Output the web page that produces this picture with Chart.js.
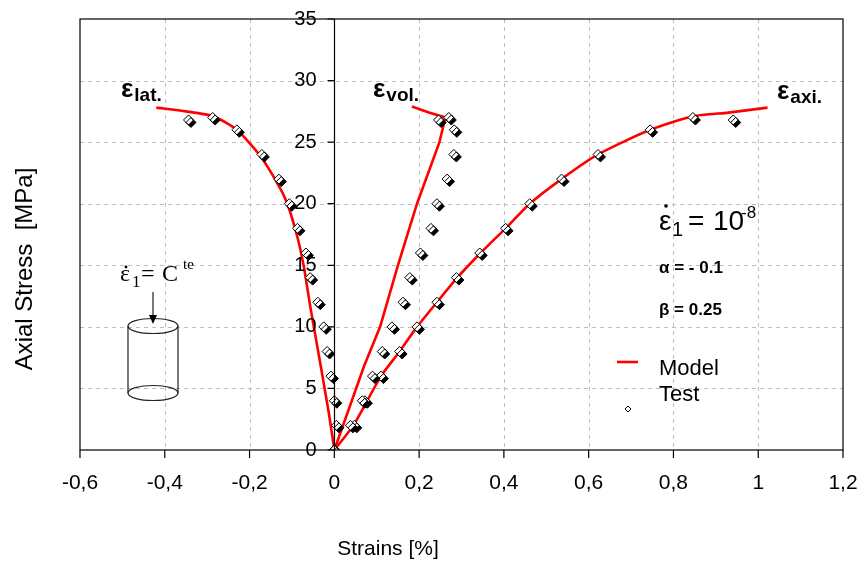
<!DOCTYPE html>
<html>
<head>
<meta charset="utf-8">
<script src="https://cdn.jsdelivr.net/npm/chart.js"></script>
<style>
  html, body { margin: 0; padding: 0; background: #fff; }
  #wrap { width: 859px; height: 561px; }
</style>
</head>
<body>
<div id="wrap"><canvas id="myChart" width="859" height="561"></canvas></div>
<script>
// model curves (red lines)
const latModelX = [0, -0.013, -0.033, -0.057, -0.072, -0.088, -0.112, -0.135, -0.175, -0.23, -0.285, -0.35, -0.42]
const latModelY = [0, 3, 7, 11.7, 14.9, 17.4, 20.1, 21.7, 23.9, 26, 27.1, 27.5, 27.8]
const volModelX = [0, 0.07, 0.108, 0.15, 0.195, 0.248, 0.262, 0.223, 0.183]
const volModelY = [0, 6.8, 10, 15, 20, 25, 27, 27.4, 27.9]
const axiModelX = [0, 0.045, 0.11, 0.154, 0.195, 0.242, 0.29, 0.345, 0.404, 0.461, 0.536, 0.622, 0.745, 0.846, 0.93, 1.022]
const axiModelY = [0, 2, 6, 8, 10, 12, 14, 16, 18, 20, 22, 24, 26, 27.1, 27.4, 27.8]

// test points (diamonds)
const testY    = [0, 2, 4, 6, 8, 10, 12, 14, 16, 18, 20, 22, 24, 26, 27, 26.8]
const latTestX = [0, 0.005, 0, -0.008, -0.017, -0.025, -0.039, -0.057, -0.067, -0.087, -0.106, -0.131, -0.171, -0.23, -0.287, -0.344]
const volTestX = [0, 0.038, 0.066, 0.09, 0.113, 0.136, 0.162, 0.178, 0.203, 0.228, 0.242, 0.266, 0.282, 0.283, 0.27, 0.246]
const axiTestX = [0, 0.047, 0.072, 0.11, 0.154, 0.195, 0.242, 0.288, 0.343, 0.404, 0.461, 0.536, 0.622, 0.745, 0.846, 0.941]

const xTicks = [-0.6, -0.4, -0.2, 0, 0.2, 0.4, 0.6, 0.8, 1, 1.2]
const yTicks = [0, 5, 10, 15, 20, 25, 30, 35]

const pts = (xs, ys) => xs.map((x, i) => ({ x: x, y: ys[i] }))
const fmt = v => String(Math.round(v * 10) / 10).replace('.', ',')
const SANS = '"Liberation Sans", Arial, sans-serif'
const SERIF = '"Liberation Serif", "Times New Roman", serif'

const modelSet = (xs, ys, tension) => ({
  label: 'Model',
  data: pts(xs, ys),
  showLine: true,
  borderColor: '#ff0000',
  backgroundColor: '#ff0000',
  borderWidth: 2.6,
  pointRadius: 0,
  tension: tension,
  order: 2
})
const testSet = (xs) => ({
  label: 'Test',
  data: pts(xs, testY),
  showLine: false,
  pointStyle: 'rectRot',
  pointRadius: 5,
  pointBackgroundColor: '#ffffff',
  pointBorderColor: '#000000',
  pointBorderWidth: 1,
  isTest: true,
  order: 1
})

// dashed grid drawn under the data
const gridPlugin = {
  id: 'dashGrid',
  beforeDatasetsDraw(chart) {
    const ctx = chart.ctx, a = chart.chartArea
    const xs = chart.scales.x, ys = chart.scales.y
    ctx.save()
    ctx.strokeStyle = '#bdbdbd'
    ctx.lineWidth = 1
    ctx.setLineDash([4, 4])
    ctx.beginPath()
    xTicks.slice(1, -1).forEach(v => {
      const px = Math.round(xs.getPixelForValue(v)) + 0.5
      ctx.moveTo(px, a.top); ctx.lineTo(px, a.bottom)
    })
    yTicks.slice(1, -1).forEach(v => {
      const py = Math.round(ys.getPixelForValue(v)) + 0.5
      ctx.moveTo(a.left, py); ctx.lineTo(a.right, py)
    })
    ctx.stroke()
    ctx.restore()
  }
}

// black drop shadow under the test diamonds
const shadowPlugin = {
  id: 'shadow',
  beforeDatasetDraw(chart, args) {
    const ds = chart.data.datasets[args.index]
    chart.ctx.save()
    if (ds.isTest) {
      chart.ctx.shadowColor = '#000'
      chart.ctx.shadowOffsetX = 2.5
      chart.ctx.shadowOffsetY = 2.5
      chart.ctx.shadowBlur = 0
    }
  },
  afterDatasetDraw(chart) {
    chart.ctx.restore()
  }
}

const dotted = (ctx, x, y, r) => {
  ctx.beginPath(); ctx.arc(x, y, r, 0, Math.PI * 2); ctx.fill()
}

// frame, axis at x=0, tick labels, titles, annotations
const decoPlugin = {
  id: 'deco',
  afterDraw(chart) {
    const ctx = chart.ctx
    const a = chart.chartArea
    const xs = chart.scales.x, ys = chart.scales.y
    const x0 = Math.round(xs.getPixelForValue(0)) + 0.5
    ctx.save()
    ctx.strokeStyle = '#000'
    ctx.lineWidth = 1.2
    ctx.strokeRect(a.left, a.top, a.right - a.left, a.bottom - a.top)
    ctx.beginPath()
    ctx.moveTo(x0, a.top); ctx.lineTo(x0, a.bottom)
    yTicks.forEach(v => {
      const py = ys.getPixelForValue(v)
      ctx.moveTo(x0 - 7, py); ctx.lineTo(x0, py)
    })
    xTicks.forEach(v => {
      const px = xs.getPixelForValue(v)
      ctx.moveTo(px, a.bottom); ctx.lineTo(px, a.bottom + 8)
    })
    ctx.stroke()

    ctx.fillStyle = '#000'
    ctx.font = '20px ' + SANS
    ctx.textAlign = 'right'; ctx.textBaseline = 'middle'
    yTicks.forEach(v => ctx.fillText(String(v), x0 - 18, ys.getPixelForValue(v)))
    ctx.font = '21px ' + SANS
    ctx.textAlign = 'center'; ctx.textBaseline = 'middle'
    xTicks.forEach(v => ctx.fillText(fmt(v), xs.getPixelForValue(v), 483))

    // axis titles
    ctx.font = '21px ' + SANS
    ctx.fillText('Strains [%]', 388, 549)
    ctx.save()
    ctx.translate(25, 269)
    ctx.rotate(-Math.PI / 2)
    ctx.font = '24px ' + SANS
    ctx.fillText('Axial Stress  [MPa]', 0, 0)
    ctx.restore()

    // curve labels
    const epsLabel = (x, y, sub) => {
      ctx.textAlign = 'left'; ctx.textBaseline = 'alphabetic'
      ctx.font = 'bold 26px ' + SANS
      ctx.fillText('\u03b5', x, y)
      const w = ctx.measureText('\u03b5').width
      ctx.font = 'bold 19px ' + SANS
      ctx.fillText(sub, x + w + 1, y + 4)
    }
    epsLabel(121, 97, 'lat.')
    epsLabel(373, 97, 'vol.')
    epsLabel(777, 99, 'axi.')

    // strain rate text
    ctx.textAlign = 'left'; ctx.textBaseline = 'alphabetic'
    ctx.font = '28px ' + SANS
    ctx.fillText('\u03b5', 659, 230)
    dotted(ctx, 666, 206, 1.8)
    ctx.font = '20px ' + SANS
    ctx.fillText('1', 672, 236)
    ctx.font = '28px ' + SANS
    ctx.fillText('=', 688, 230)
    ctx.fillText('10', 713, 230)
    ctx.font = '17px ' + SANS
    ctx.fillText('-8', 741, 218)
    ctx.font = 'bold 17px ' + SANS
    ctx.fillText('\u03b1 = - 0.1', 659, 273)
    ctx.fillText('\u03b2 = 0.25', 659, 315)

    // legend
    ctx.strokeStyle = '#ff0000'; ctx.lineWidth = 2.6
    ctx.beginPath(); ctx.moveTo(617, 362); ctx.lineTo(638, 362); ctx.stroke()
    ctx.strokeStyle = '#000'; ctx.lineWidth = 1
    ctx.fillStyle = '#fff'
    ctx.beginPath()
    ctx.moveTo(628, 406); ctx.lineTo(631, 409); ctx.lineTo(628, 412); ctx.lineTo(625, 409); ctx.closePath()
    ctx.fill(); ctx.stroke()
    ctx.fillStyle = '#000'
    ctx.font = '22px ' + SANS
    ctx.textBaseline = 'middle'
    ctx.fillText('Model', 659, 369)
    ctx.fillText('Test', 659, 395)

    // cylinder sketch
    ctx.strokeStyle = '#222'; ctx.lineWidth = 1.2
    ctx.beginPath(); ctx.ellipse(153, 326, 25, 7.5, 0, 0, Math.PI * 2); ctx.stroke()
    ctx.beginPath(); ctx.ellipse(153, 393, 25, 7.5, 0, 0, Math.PI * 2); ctx.stroke()
    ctx.beginPath()
    ctx.moveTo(128, 326); ctx.lineTo(128, 393)
    ctx.moveTo(178, 326); ctx.lineTo(178, 393)
    ctx.moveTo(153, 292); ctx.lineTo(153, 318)
    ctx.stroke()
    ctx.fillStyle = '#000'
    ctx.beginPath(); ctx.moveTo(149, 315); ctx.lineTo(157, 315); ctx.lineTo(153, 324); ctx.closePath(); ctx.fill()
    ctx.textBaseline = 'alphabetic'
    ctx.font = '24px ' + SERIF
    ctx.fillText('\u03b5', 120, 281)
    dotted(ctx, 126, 267, 1.4)
    ctx.font = '17px ' + SERIF
    ctx.fillText('1', 132, 287)
    ctx.font = '24px ' + SERIF
    ctx.fillText('=', 141, 281)
    ctx.fillText('C', 162, 281)
    ctx.font = '15px ' + SERIF
    ctx.fillText('te', 183, 269)
    ctx.restore()
  }
}

const config = {
  type: 'scatter',
  data: {
    datasets: [
      modelSet(latModelX, latModelY, 0.2),
      modelSet(volModelX, volModelY, 0),
      modelSet(axiModelX, axiModelY, 0.2),
      testSet(latTestX),
      testSet(volTestX),
      testSet(axiTestX)
    ]
  },
  options: {
    responsive: false,
    animation: false,
    layout: { padding: { left: 80, right: 16, top: 19, bottom: 111 } },
    plugins: { legend: { display: false }, tooltip: { enabled: false } },
    scales: {
      x: {
        type: 'linear', min: -0.6, max: 1.2,
        ticks: { display: false, stepSize: 0.2 },
        border: { display: false },
        grid: { display: false, drawTicks: false }
      },
      y: {
        type: 'linear', min: 0, max: 35,
        ticks: { display: false, stepSize: 5 },
        border: { display: false },
        grid: { display: false, drawTicks: false }
      }
    }
  },
  plugins: [gridPlugin, shadowPlugin, decoPlugin]
}

const myChart = new Chart(document.getElementById('myChart'), config)
</script>
</body>
</html>
